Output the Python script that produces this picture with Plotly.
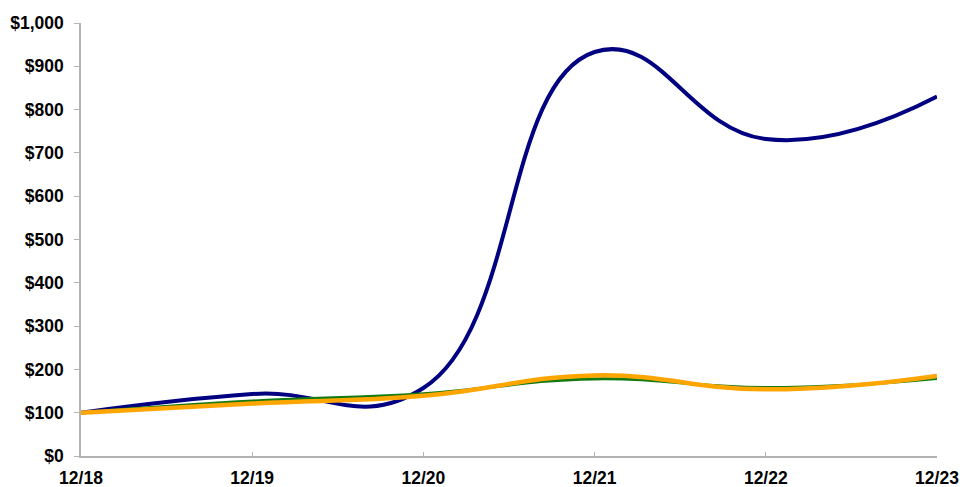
import plotly.graph_objects as go

categories = ["12/18", "12/19", "12/20", "12/21", "12/22", "12/23"]
series_navy = [100, 143, 157, 933, 732, 830]
series_green = [100, 127, 144, 178, 158, 179]
series_orange = [100, 121, 139, 186, 154, 185]
y_tick_vals = [0, 100, 200, 300, 400, 500, 600, 700, 800, 900, 1000]
y_tick_text = ["$0", "$100", "$200", "$300", "$400", "$500", "$600", "$700", "$800", "$900", "$1,000"]

x_idx = list(range(len(categories)))

fig = go.Figure()
fig.add_trace(go.Scatter(x=x_idx, y=series_navy, mode="lines",
                         line=dict(color="#000080", width=4, shape="spline", smoothing=1.3),
                         showlegend=False, cliponaxis=False))
fig.add_trace(go.Scatter(x=x_idx, y=series_green, mode="lines",
                         line=dict(color="#137a13", width=3, shape="spline", smoothing=1.3),
                         showlegend=False, cliponaxis=False))
fig.add_trace(go.Scatter(x=x_idx, y=series_orange, mode="lines",
                         line=dict(color="#ffa500", width=4.5, shape="spline", smoothing=1.3),
                         showlegend=False, cliponaxis=False))

font = dict(family="Liberation Sans, Arial, sans-serif", size=17.5, color="#000000")

fig.update_layout(
    width=962, height=487,
    margin=dict(l=81, r=25, t=23, b=31, pad=0),
    paper_bgcolor="white", plot_bgcolor="white",
    font=font,
    xaxis=dict(range=[0, 5], tickvals=x_idx, ticktext=[f"<b>{c}</b>" for c in categories],
               showgrid=False, zeroline=False, showline=True, linecolor="#b3b3b3", linewidth=1.5,
               ticks="inside", ticklen=4, tickcolor="#b3b3b3", tickwidth=1,
               ticklabelstandoff=5, automargin=False),
    yaxis=dict(range=[0, 1000], tickvals=y_tick_vals, ticktext=[f"<b>{t}</b>" for t in y_tick_text],
               showgrid=False, zeroline=False, showline=True, linecolor="#b3b3b3", linewidth=1.5,
               ticks="outside", ticklen=5, tickcolor="#b3b3b3", tickwidth=1,
               ticklabelstandoff=7, automargin=False),
)

post = (
    "document.documentElement.style.margin='0';"
    "document.documentElement.style.overflow='hidden';"
    "document.body.style.margin='0';"
    "document.body.style.overflow='hidden';"
)

fig.write_html("out.html", config={"displayModeBar": False}, post_script=post)
